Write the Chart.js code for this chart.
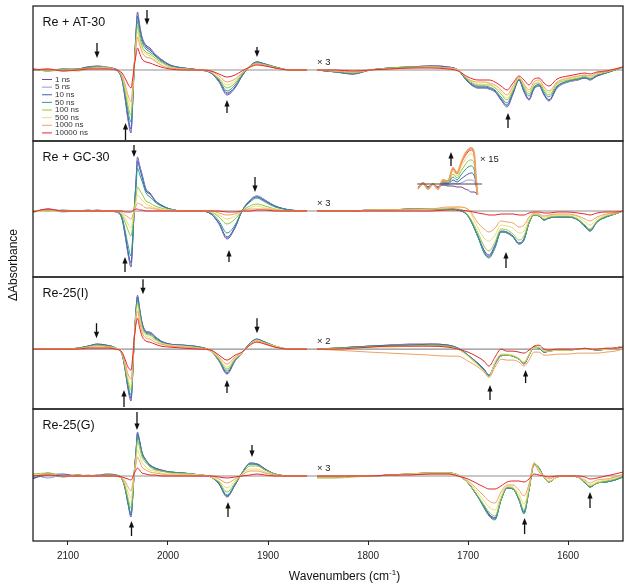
<!DOCTYPE html>
<html><head><meta charset="utf-8">
<script src="https://cdn.jsdelivr.net/npm/chart.js@4.4.1/dist/chart.umd.min.js"></script>
<style>html,body{margin:0;padding:0;background:#fff}canvas{display:block}</style>
</head><body>
<canvas id="c" width="629" height="588"></canvas>
<script>
// ---------------- data ----------------
const timeDelays = ['1 ns','5 ns','10 ns','50 ns','100 ns','500 ns','1000 ns','10000 ns'];
const seriesColors = ['#6b4c9a','#9b93cf','#3f5fb4','#2f9e86','#9ac43c','#e8de78','#f0a060','#e3262b'];
const panelNames = ['Re + AT-30','Re + GC-30','Re-25(I)','Re-25(G)'];
const panelScaleLabels = ['\u00d7 3','\u00d7 3','\u00d7 2','\u00d7 3'];
const insetScaleLabel = '\u00d7 15';
const xTickValues = [2100,2000,1900,1800,1700,1600];

// wavenumber grid (cm-1): left segment, then right segment (gap between)
const wnLeft = [2135,2120,2105,2090,2080,2071,2062,2052,2046,2043,2040,2037,2035.5,2034,2032,2030.5,2028.5,2026,2022,2018,2013,2007,1998,1985,1968,1957,1949,1941,1933,1926,1918,1911,1903,1893,1878,1861];
const wnRight = [1851,1832,1815,1798,1778,1758,1738,1720,1710,1700,1690,1684,1679,1673,1667,1661,1655,1649,1644,1639,1634,1629,1624,1619,1611,1600,1590,1583,1578,1571,1562,1553,1545];

// Re + AT-30 (one row per time delay)
const reAT30 = [
 [1,-1,1,1,3,4,3,0,-10,-28,-50,-63,-38,-2,38,58,46,33,25,22,16,11,5,2,0,-3,-12,-25,-18,-6,4,8,6,3,0,0,
  0,-2,-4,0,2,3,4,3,0,-12,-18,-18,-19,-22,-30,-37,-24,-10,-22,-30,-19,-16,-25,-31,-18,-12,-10,-8,-10,-6,-3,0,3],
 [0,1,-1,1,2,4,3,0,-10,-27,-48,-61,-37,-2,37,56,45,32,24,21,16,11,5,2,0,-3,-12,-24,-17,-6,4,8,6,3,0,0,
  0,-2,-4,0,2,3,4,3,0,-12,-18,-18,-19,-22,-29,-36,-23,-10,-21,-29,-19,-16,-24,-30,-18,-12,-10,-8,-10,-6,-3,0,3],
 [1,0,0,1,3,3,2,1,-9,-26,-46,-59,-35,-2,36,54,43,31,23,20,15,10,5,2,0,-3,-11,-23,-17,-6,4,8,6,3,0,0,
  0,-2,-4,0,2,3,4,3,0,-12,-17,-17,-18,-21,-29,-35,-23,-10,-21,-29,-18,-15,-24,-30,-17,-11,-9,-8,-9,-6,-3,0,3],
 [0,0,1,0,2,3,2,0,-8,-23,-41,-52,-31,-1,32,49,39,28,21,18,14,9,4,2,0,-2,-10,-21,-15,-5,4,7,6,3,0,0,
  0,-2,-3,0,2,3,3,2,0,-11,-16,-16,-17,-20,-27,-33,-21,-9,-19,-26,-17,-14,-22,-27,-16,-11,-9,-7,-9,-5,-3,0,3],
 [1,-1,0,1,2,3,2,0,-7,-20,-36,-45,-27,0,29,44,34,24,18,16,12,8,3,1,0,-2,-9,-18,-13,-4,4,7,5,3,0,0,
  0,-1,-3,0,2,3,3,2,0,-10,-15,-15,-15,-18,-24,-30,-20,-8,-17,-24,-15,-13,-20,-25,-14,-10,-8,-6,-8,-4,-2,0,3],
 [0,1,-1,0,1,2,2,0,-6,-17,-30,-38,-23,0,25,38,30,21,16,14,10,7,3,1,0,-2,-8,-15,-11,-3,3,6,5,2,0,0,
  0,-1,-2,0,1,2,3,2,0,-9,-14,-14,-14,-17,-22,-28,-18,-8,-15,-22,-14,-12,-18,-23,-13,-9,-7,-5,-7,-4,-2,1,3],
 [1,0,0,-1,1,2,1,0,-5,-14,-25,-32,-18,1,22,33,26,18,13,12,9,5,2,1,0,-1,-6,-12,-9,-3,3,6,5,2,0,0,
  0,-1,-2,0,1,2,3,2,0,-9,-12,-12,-13,-15,-20,-25,-16,-7,-14,-20,-12,-10,-17,-21,-12,-8,-6,-5,-6,-3,-2,1,3],
 [0,1,-1,0,1,1,1,0,-3,-8,-14,-18,-10,2,15,22,17,11,8,7,5,3,1,0,0,-1,-4,-7,-5,-1,3,5,4,2,0,0,
  0,0,-1,0,1,2,2,1,-1,-7,-10,-10,-10,-12,-16,-20,-13,-6,-10,-15,-9,-8,-13,-16,-9,-6,-4,-3,-4,-2,-1,1,3]
];

// Re + GC-30
const reGC30 = [
 [-1,2,0,0,0,1,0,-1,-8,-24,-43,-56,-35,-3,30,54,46,37,22,18,11,6,2,0,0,-3,-13,-28,-17,0,11,15,11,5,1,0,
  0,0,0,1,1,2,2,2,1,-5,-26,-41,-46,-36,-21,-22,-26,-33,-29,-12,-4,-5,-9,-7,-6,-6,-9,-16,-20,-11,-6,-3,0],
 [0,1,-1,0,0,0,0,-1,-8,-23,-42,-54,-34,-3,29,52,45,36,21,17,11,6,2,0,0,-3,-13,-27,-16,0,11,15,11,5,1,0,
  0,0,0,1,1,2,2,2,1,-5,-26,-40,-45,-35,-21,-22,-26,-32,-28,-12,-4,-5,-9,-7,-6,-6,-9,-16,-20,-11,-6,-3,0],
 [-1,1,0,0,1,0,0,0,-7,-22,-40,-52,-33,-3,28,50,43,34,20,17,10,6,2,0,0,-3,-12,-26,-16,0,10,14,10,5,1,0,
  0,0,0,1,1,2,2,2,1,-5,-25,-39,-44,-34,-20,-21,-25,-32,-28,-12,-4,-5,-9,-7,-6,-6,-9,-15,-19,-11,-6,-3,0],
 [0,0,1,0,0,0,0,0,-6,-19,-34,-45,-28,-2,24,43,37,30,18,14,9,5,2,0,0,-2,-10,-22,-14,0,9,13,9,4,1,0,
  0,0,0,1,1,2,2,2,1,-5,-26,-42,-47,-37,-21,-22,-26,-33,-29,-12,-4,-5,-9,-7,-6,-6,-9,-16,-20,-11,-6,-3,0],
 [0,1,0,0,0,0,0,0,-4,-11,-19,-25,-16,-1,14,24,21,17,10,8,5,3,1,0,0,-1,-6,-13,-8,0,5,7,5,2,0,0,
  0,0,0,1,1,1,2,2,2,-4,-22,-35,-40,-31,-18,-19,-23,-29,-25,-11,-4,-4,-8,-6,-5,-5,-8,-14,-18,-10,-5,-3,0],
 [-1,0,0,0,0,0,0,0,-2,-7,-13,-17,-10,-1,9,16,14,11,7,5,3,2,1,0,0,-1,-4,-8,-5,0,3,5,3,2,0,0,
  0,0,0,1,1,1,2,3,4,1,-17,-27,-30,-24,-14,-15,-17,-22,-20,-8,-3,-4,-6,-5,-4,-4,-6,-11,-14,-8,-4,-2,0],
 [0,1,0,0,0,0,0,0,-1,-4,-6,-8,-5,0,5,8,7,6,3,3,2,1,0,0,0,0,-2,-4,-3,0,2,2,2,1,0,0,
  0,0,0,1,1,2,2,4,4,2,-12,-18,-21,-17,-10,-11,-12,-16,-14,-6,-2,-3,-5,-4,-3,-3,-5,-8,-10,-6,-3,-2,0],
 [-1,2,0,0,0,0,0,0,0,-1,-1,-1,0,1,2,2,1,1,0,0,0,0,0,0,0,0,0,-1,-1,0,0,1,1,0,0,0,
  0,0,0,0,0,0,0,1,1,0,-2,-3,-4,-4,-3,-3,-3,-4,-4,-2,-1,-1,-2,-2,-1,-1,-2,-3,-4,-2,-1,-1,0]
];

// Re + GC-30 inset (x 15)
const insetWn = [1750,1745,1740,1735,1730,1725,1720,1715,1711,1707,1703,1700,1697,1694,1692,1690.5];
const reGC30Inset = [
 [-3,1,-3,0,-3,-1,-2,-2,-3,-3,-5,-6,-8,-8,-9,-11],
 [-3,1,-3,0,-3,0,-1,1,0,1,3,4,4,3,-2,-11],
 [-3,1,-3,0,-3,1,0,4,2,5,8,10,11,9,0,-11],
 [-4,1,-4,0,-4,2,1,7,4,9,14,17,18,15,2,-11],
 [-4,1,-4,0,-4,3,2,10,6,13,19,23,24,21,3,-11],
 [-5,1,-5,0,-5,3,2,13,8,17,24,28,30,26,4,-11],
 [-5,1,-5,0,-5,4,3,16,11,21,30,34,36,32,6,-11],
 [-5,1,-5,0,-5,4,3,15,10,20,28,32,34,30,5,-11]
];

// Re-25(I)
const re25I = [
 [0,0,0,1,3,5,4,1,-5,-20,-40,-52,-30,5,40,54,42,27,18,17,13,8,5,4,2,-2,-12,-25,-12,-4,6,10,7,3,0,0,
  0,1,2,3,4,5,5,4,1,-6,-15,-20,-27,-15,-7,-6,-7,-10,-15,-6,2,1,-3,-2,-1,-1,0,0,0,-1,0,1,3],
 [0,0,0,1,3,5,4,1,-5,-20,-39,-50,-29,5,39,53,41,26,18,17,13,8,5,4,2,-2,-12,-24,-12,-4,6,10,7,3,0,0,
  0,1,2,3,4,5,5,4,1,-6,-15,-20,-27,-15,-7,-6,-7,-10,-14,-6,2,1,-3,-2,-1,-1,0,0,0,-1,0,1,3],
 [0,0,0,1,3,5,4,1,-5,-19,-38,-49,-28,5,39,52,40,26,17,16,12,8,5,4,2,-2,-11,-24,-11,-4,6,10,7,3,0,0,
  0,1,2,3,4,4,5,4,1,-6,-14,-20,-26,-14,-6,-6,-7,-10,-14,-6,2,1,-3,-2,-1,-1,0,0,0,-1,0,1,3],
 [0,0,0,1,3,4,3,1,-5,-18,-36,-46,-26,6,37,49,38,24,16,15,11,7,4,3,2,-2,-11,-22,-11,-4,6,9,7,3,0,0,
  0,1,2,3,3,4,4,3,1,-6,-15,-21,-27,-14,-6,-6,-7,-10,-14,-6,2,1,-3,-2,-1,-1,0,0,0,-1,0,1,3],
 [0,0,0,1,2,4,3,1,-4,-17,-32,-41,-23,6,35,46,35,22,15,14,10,6,4,3,1,-2,-10,-20,-10,-4,5,9,6,3,0,0,
  0,1,1,2,3,3,4,3,0,-7,-16,-22,-28,-14,-6,-6,-7,-10,-14,-6,2,2,-2,-2,-1,-1,0,0,0,-1,0,1,3],
 [0,0,0,0,2,3,2,1,-4,-15,-29,-37,-20,7,33,43,32,20,13,12,9,6,4,3,1,-2,-9,-18,-9,-4,5,9,6,3,0,0,
  0,0,1,2,2,3,3,2,0,-7,-16,-22,-28,-13,-5,-5,-6,-9,-13,-5,2,2,-2,-2,-1,-1,0,0,0,0,0,1,3],
 [0,0,0,0,2,2,2,0,-4,-13,-25,-30,-16,7,30,38,28,17,11,10,7,5,3,2,1,-1,-8,-15,-8,-3,5,8,6,2,0,0,
  0,-1,-2,-3,-4,-5,-6,-7,-7,-12,-18,-23,-28,-18,-10,-11,-11,-13,-17,-11,-3,-3,-6,-6,-5,-5,-4,-4,-4,-4,-3,-2,0],
 [0,0,0,0,1,1,1,0,-3,-10,-18,-21,-10,8,25,31,22,13,8,7,5,3,2,1,0,-1,-6,-11,-6,-3,4,7,5,2,0,0,
  0,0,1,2,3,3,3,2,0,-3,-8,-12,-17,-8,0,-2,-2,-3,-4,-1,3,4,0,-1,0,0,0,1,0,0,1,1,2]
];

// Re-25(G)
const re25G = [
 [-3,3,0,1,0,0,2,1,-3,-12,-28,-41,-25,0,25,44,36,24,16,11,8,6,4,3,1,-1,-8,-21,-9,3,13,12,7,2,0,0,
  -1,-1,0,0,1,2,3,3,1,-7,-21,-31,-39,-43,-24,-12,-13,-24,-37,-14,12,8,-1,-6,-1,0,-1,-7,-11,-7,-6,-4,-1],
 [2,-2,1,0,1,0,1,0,-3,-12,-27,-40,-24,0,24,43,35,23,16,11,8,6,4,3,1,-1,-8,-20,-9,3,13,12,7,2,0,0,
  -1,-1,0,0,1,2,3,3,1,-7,-21,-31,-38,-42,-24,-12,-13,-24,-36,-14,12,8,-1,-6,-1,0,-1,-7,-11,-7,-6,-4,-1],
 [-2,1,2,0,0,1,1,0,-3,-12,-27,-39,-24,0,24,42,35,23,15,11,8,6,4,3,1,-1,-8,-20,-9,3,12,12,7,2,0,0,
  -1,-1,0,0,1,2,3,3,1,-7,-21,-30,-38,-42,-24,-12,-13,-23,-36,-14,12,8,-1,-6,-1,0,-1,-7,-11,-7,-6,-4,0],
 [0,2,-1,1,0,0,1,1,-3,-11,-26,-37,-23,0,23,40,33,22,15,10,7,5,4,3,1,-1,-7,-19,-8,3,12,11,6,2,0,0,
  -1,-1,0,0,1,2,3,3,1,-7,-21,-32,-40,-44,-24,-12,-13,-24,-38,-14,12,8,-1,-6,-1,0,-1,-7,-11,-7,-6,-4,-1],
 [2,3,0,1,0,0,1,0,-3,-10,-22,-32,-19,1,20,35,29,19,13,9,6,5,3,2,1,-1,-6,-16,-7,2,10,10,6,2,0,0,
  -2,-2,-1,0,1,2,3,3,1,-7,-20,-29,-36,-40,-23,-11,-12,-22,-34,-13,11,7,-1,-6,-1,0,-1,-6,-10,-7,-5,-3,0],
 [1,2,0,0,0,0,0,0,-2,-7,-16,-22,-14,1,16,26,21,14,9,6,5,3,2,2,1,-1,-5,-12,-5,2,7,7,4,1,0,0,
  -1,-1,0,0,1,2,3,3,1,-6,-17,-25,-31,-34,-20,-10,-11,-18,-28,-11,14,6,-1,-5,-1,0,-1,-5,-9,-6,-4,-2,1],
 [0,1,0,0,0,0,0,0,-2,-5,-11,-15,-9,1,12,19,15,9,6,4,3,2,1,1,0,0,-3,-7,-3,1,5,5,3,1,0,0,
  0,0,0,0,1,2,2,2,0,-5,-14,-20,-25,-27,-16,-9,-9,-14,-20,-8,12,4,0,-3,0,0,-1,-4,-7,-4,-3,-1,2],
 [0,1,0,0,0,0,0,0,-1,-2,-3,-4,-2,2,6,8,6,3,2,1,1,0,0,0,0,0,-1,-2,-1,0,1,2,1,0,0,0,
  0,0,0,0,1,1,2,2,0,-3,-8,-11,-13,-13,-10,-6,-5,-5,-6,-3,2,1,0,-1,0,0,0,-1,-3,-2,0,2,4]
];

// arrow annotations (panel index, wavenumber, tail value, head value)
const arrowMarks = [
 {p:0,wn:2071,from:27,to:12},{p:0,wn:2021,from:60,to:45},{p:0,wn:1911,from:23,to:13},
 {p:0,wn:2042.5,from:-70,to:-53},{p:0,wn:1941,from:-43,to:-30},{p:0,wn:1660,from:-58,to:-43},
 {p:1,wn:2034,from:66,to:54},{p:1,wn:1913,from:34,to:19},{p:1,wn:2043,from:-61,to:-46},
 {p:1,wn:1939,from:-51,to:-39},{p:1,wn:1662,from:-57,to:-41},{p:1,wn:1717,from:45,to:59},
 {p:2,wn:2025,from:70,to:55},{p:2,wn:2071.5,from:26,to:11},{p:2,wn:1911,from:31,to:16},
 {p:2,wn:2044,from:-58,to:-41},{p:2,wn:1941,from:-44,to:-31},{p:2,wn:1678,from:-51,to:-36},
 {p:2,wn:1642.4,from:-34,to:-21},
 {p:3,wn:2031,from:64,to:46},{p:3,wn:1916,from:31,to:19},{p:3,wn:2036.5,from:-60,to:-45},
 {p:3,wn:1940,from:-41,to:-26},{p:3,wn:1643.4,from:-58,to:-42},{p:3,wn:1578,from:-32,to:-16}
];

// ---------------- chart ----------------
const FONT = '"Liberation Sans", Arial, Helvetica, sans-serif';
const panelIds = ['y0','y1','y2','y3'];
const panelSeries = [reAT30, reGC30, re25I, re25G];
const insetOffset = 27;

function buildData(values){
  const pts = [];
  wnLeft.forEach((x,i)=>pts.push({x, y: values[i]}));
  pts.push({x:(wnLeft[wnLeft.length-1]+wnRight[0])/2, y:null});
  wnRight.forEach((x,i)=>pts.push({x, y: values[wnLeft.length+i]}));
  return pts;
}

const datasets = [];
panelSeries.forEach((ser,pi)=>{
  ser.forEach((vals,si)=>{
    datasets.push({label: timeDelays[si], data: buildData(vals), yAxisID: panelIds[pi],
      borderColor: seriesColors[si], borderWidth: 1, pointRadius: 0, fill: false,
      order: 7-si, cubicInterpolationMode: 'monotone', spanGaps: false});
  });
});
reGC30Inset.forEach((vals,si)=>{
  datasets.push({label: timeDelays[si] + ' \u00d715', data: insetWn.map((x,i)=>({x, y: vals[i]+insetOffset})),
    yAxisID: 'y1', borderColor: seriesColors[si], borderWidth: si===6 ? 1.8 : 1, pointRadius: 0,
    fill:false, order: si===6 ? -2 : -1, cubicInterpolationMode: 'monotone'});
});

function drawArrow(ctx, x, yTail, yHead){
  const dir = yHead > yTail ? 1 : -1;
  ctx.beginPath(); ctx.moveTo(x, yTail); ctx.lineTo(x, yHead - dir*5); ctx.stroke();
  ctx.beginPath(); ctx.moveTo(x, yHead); ctx.lineTo(x-2.6, yHead-dir*6.5); ctx.lineTo(x+2.6, yHead-dir*6.5);
  ctx.closePath(); ctx.fill();
}

const decor = {
  id: 'decor',
  beforeDatasetsDraw(chart){
    const {ctx, chartArea:a, scales} = chart;
    ctx.save();
    ctx.strokeStyle = '#8f8f8f'; ctx.lineWidth = 1.2;
    panelIds.forEach(id=>{
      const y = scales[id].getPixelForValue(0);
      ctx.beginPath(); ctx.moveTo(a.left, y); ctx.lineTo(a.right, y); ctx.stroke();
    });
    ctx.restore();
  },
  afterDatasetsDraw(chart){
    const {ctx, chartArea:a, scales} = chart;
    const xs = scales.x;
    ctx.save();
    // inset baseline
    ctx.strokeStyle = '#333'; ctx.lineWidth = 0.9;
    ctx.beginPath();
    ctx.moveTo(xs.getPixelForValue(1750.8), scales.y1.getPixelForValue(insetOffset));
    ctx.lineTo(xs.getPixelForValue(1686), scales.y1.getPixelForValue(insetOffset));
    ctx.stroke();
    // panel frames
    ctx.strokeStyle = '#222'; ctx.lineWidth = 1.3;
    panelIds.forEach(id=>{ const s = scales[id]; ctx.strokeRect(a.left, s.top, a.right-a.left, s.bottom-s.top); });
    // panel names
    ctx.fillStyle = '#111'; ctx.textAlign = 'left'; ctx.textBaseline = 'alphabetic';
    ctx.font = '12.5px ' + FONT;
    panelIds.forEach((id,i)=>ctx.fillText(panelNames[i], a.left+9.5, scales[id].top+20));
    // scale factors
    ctx.font = '9.5px ' + FONT; ctx.fillStyle = '#222';
    panelIds.forEach((id,i)=>ctx.fillText(panelScaleLabels[i], xs.getPixelForValue(1851), scales[id].getPixelForValue(5)));
    ctx.fillText(insetScaleLabel, xs.getPixelForValue(1688), scales.y1.getPixelForValue(49));
    // arrows
    ctx.strokeStyle = '#111'; ctx.fillStyle = '#111'; ctx.lineWidth = 1.3;
    arrowMarks.forEach(m=>{
      const ys = scales[panelIds[m.p]];
      drawArrow(ctx, xs.getPixelForValue(m.wn), ys.getPixelForValue(m.from), ys.getPixelForValue(m.to));
    });
    // legend in first panel
    const top0 = scales.y0.top;
    ctx.font = '8px ' + FONT; ctx.textBaseline = 'middle';
    timeDelays.forEach((lab,i)=>{
      const y = top0 + 73.5 + i*7.63;
      ctx.strokeStyle = seriesColors[i]; ctx.lineWidth = 1;
      ctx.beginPath(); ctx.moveTo(a.left+9, y); ctx.lineTo(a.left+19, y); ctx.stroke();
      ctx.fillStyle = '#333'; ctx.fillText(lab, a.left+22, y);
    });
    // y title
    ctx.fillStyle = '#111'; ctx.font = '12px ' + FONT; ctx.textAlign = 'center'; ctx.textBaseline = 'middle';
    ctx.save(); ctx.translate(13.5, 265); ctx.rotate(-Math.PI/2); ctx.fillText('\u0394Absorbance', 0, 0); ctx.restore();
    // x title with superscript
    const main = 'Wavenumbers (cm', sup = '-1', close = ')';
    ctx.textAlign = 'left'; ctx.textBaseline = 'alphabetic';
    ctx.font = '12px ' + FONT; const w1 = ctx.measureText(main).width, w3 = ctx.measureText(close).width;
    ctx.font = '8px ' + FONT; const w2 = ctx.measureText(sup).width;
    const cx = a.left + 0.528*(a.right-a.left);
    let x0 = cx - (w1+w2+w3)/2; const yb = 579.5;
    ctx.font = '12px ' + FONT; ctx.fillText(main, x0, yb);
    ctx.font = '8px ' + FONT; ctx.fillText(sup, x0+w1, yb-5);
    ctx.font = '12px ' + FONT; ctx.fillText(close, x0+w1+w2, yb);
    ctx.restore();
  }
};

Chart.defaults.font.family = FONT;
const yRanges = [[-71,64],[-66,70],[-60,72.3],[-65,67]];
const panelHeights = [135,136,132,132];
const scales = {
  x: {type:'linear', reverse:true, min:1545, max:2135, position:'bottom',
      afterBuildTicks: s => { s.ticks = xTickValues.map(v=>({value:v})); },
      grid:{display:true, drawOnChartArea:false, drawTicks:true, tickLength:4, color:'#222', lineWidth:1},
      border:{display:false},
      ticks:{font:{size:10}, color:'#222', padding:5, maxRotation:0, autoSkip:false, callback: v => String(v)}}
};
panelIds.forEach((id,i)=>{
  scales[id] = {type:'linear', display:false, position:'left', stack:'panels',
    stackWeight: panelHeights[i], weight: 4-i, min: yRanges[i][0], max: yRanges[i][1]};
});

new Chart(document.getElementById('c'), {
  type: 'line',
  data: {datasets},
  options: {
    responsive:false, animation:false, devicePixelRatio:1,
    layout:{padding:{left:33, right:6, top:6, bottom:21}},
    plugins:{legend:{display:false}, tooltip:{enabled:false}},
    scales
  },
  plugins:[decor]
});
</script>
</body></html>
